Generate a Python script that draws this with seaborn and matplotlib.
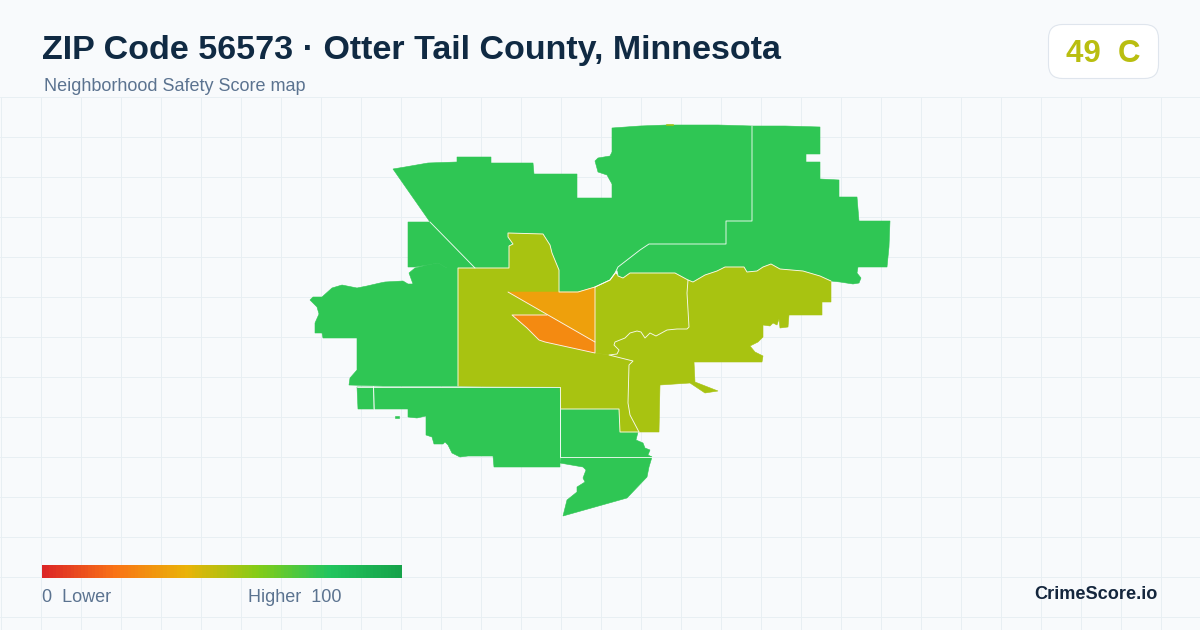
#!/usr/bin/env python3

import numpy as np
import matplotlib.pyplot as plt
from matplotlib.patches import FancyBboxPatch
import seaborn as sns

sns.set_theme(style='white')
plt.rcParams['font.family'] = ['Liberation Sans', 'DejaVu Sans']

# Region outlines (x, y)
nw_green = [(393, 169), (405, 167), (428, 163), (457, 162), (457, 157), (491, 157), (491, 163), (533, 163),
            (534, 174), (577, 174), (577, 198), (612, 198), (612, 184), (607, 175), (598, 172), (595, 161),
            (598, 158), (610, 156), (612, 152), (612, 128), (640, 126), (667, 125), (718, 125), (752, 126),
            (752, 221), (726, 221), (726, 244), (649, 244), (640, 250), (618, 267), (615, 273), (610, 280),
            (595, 287), (578, 292), (559, 292), (559, 270), (552, 253), (550, 245), (543, 234), (508, 233),
            (508, 237), (513, 244), (509, 246), (509, 268), (475, 268), (430, 222)]
wedge_green = [(408, 222), (430, 222), (475, 268), (447, 268), (438, 263), (427, 265), (415, 267), (408, 267)]
ne_green = [(752, 126), (785, 126), (820, 127), (820, 154), (806, 154), (806, 162), (820, 162), (820, 179),
            (839, 180), (839, 197), (857, 197), (859, 221), (890, 221), (889, 247), (887, 267), (858, 267),
            (857, 273), (861, 278), (859, 283), (853, 284), (840, 282), (831, 281), (820, 276), (803, 271),
            (780, 269), (771, 264), (763, 267), (757, 271), (747, 272), (744, 267), (737, 267), (725, 267),
            (717, 271), (705, 275), (693, 282), (688, 280), (675, 273), (653, 273), (630, 273), (623, 278),
            (618, 276), (617, 271), (618, 267), (640, 250), (649, 244), (726, 244), (726, 221), (752, 221)]
west_green = [(310, 300), (313, 297), (322, 297), (332, 288), (342, 285), (357, 288), (367, 286), (380, 283),
              (385, 282), (403, 281), (408, 284), (413, 284), (409, 273), (415, 268), (427, 265), (438, 263),
              (447, 268), (458, 268), (458, 386), (383, 386), (349, 385), (350, 378), (357, 370), (357, 338),
              (323, 338), (322, 333), (315, 333), (315, 323), (319, 314), (317, 307)]
box_green = [(357, 387), (373, 387), (374, 409), (358, 409)]
south_green = [(374, 387), (560, 387), (560, 467), (527, 467), (494, 467), (493, 456), (468, 456), (460, 457),
               (452, 453), (448, 445), (445, 442), (443, 444), (434, 444), (432, 437), (426, 435), (426, 416),
               (417, 418), (408, 417), (408, 409), (375, 409)]
se_box_green = [(561, 409), (619, 409), (620, 432), (638, 432), (636, 440), (643, 443), (645, 448), (650, 450),
                (648, 455), (652, 457), (561, 457)]
tail_green = [(561, 457), (652, 457), (649, 467), (647, 477), (627, 498), (563, 516), (567, 500), (577, 492),
              (577, 487), (585, 482), (583, 478), (586, 470), (583, 467), (560, 463)]
speck_green = [(395, 416), (399, 416), (399, 418), (395, 418)]

centre_lime = [(458, 268), (509, 268), (509, 246), (513, 244), (508, 237), (508, 233), (543, 234), (550, 245),
               (552, 253), (559, 270), (559, 292), (578, 292), (595, 287), (595, 353), (609, 355), (633, 361),
               (629, 365), (628, 403), (630, 415), (639, 432), (620, 432), (619, 409), (561, 409), (560, 387),
               (458, 386)]
north_lime = [(595, 287), (610, 280), (615, 273), (618, 276), (623, 278), (630, 273), (653, 273), (675, 273),
              (688, 280), (687, 293), (689, 327), (687, 329), (677, 329), (667, 330), (656, 336), (650, 333),
              (645, 338), (641, 332), (637, 331), (630, 333), (625, 338), (615, 342), (614, 345), (619, 350),
              (617, 354), (609, 355), (595, 353)]
east_lime = [(688, 280), (693, 282), (705, 275), (717, 271), (725, 267), (737, 267), (744, 267), (747, 272),
             (757, 271), (763, 267), (771, 264), (780, 269), (803, 271), (820, 276), (831, 281), (831, 302),
             (822, 302), (822, 315), (789, 315), (788, 327), (780, 328), (779, 319), (777, 325), (773, 323),
             (770, 326), (763, 325), (763, 337), (758, 342), (750, 346), (755, 352), (763, 356), (762, 362),
             (694, 362), (695, 382), (718, 391), (705, 393), (690, 383), (660, 385), (659, 432), (639, 432),
             (630, 415), (628, 403), (629, 365), (633, 361), (609, 355), (617, 354), (619, 350), (614, 345),
             (615, 342), (625, 338), (630, 333), (637, 331), (641, 332), (645, 338), (650, 333), (656, 336),
             (667, 330), (677, 329), (687, 329), (689, 327), (687, 293)]
speck_lime = [(666, 125), (673, 125), (673, 124), (666, 124)]

upper_orange = [(508, 292), (578, 292), (595, 287), (595, 342)]
lower_orange = [(512, 315), (547, 315), (595, 342), (595, 353), (545, 342), (539, 340), (527, 328)]

green_regions = [nw_green, wedge_green, ne_green, west_green, box_green, south_green, se_box_green, tail_green,
                 speck_green]
lime_regions = [centre_lime, north_lime, east_lime, speck_lime]

# Scores per group of regions
green_score = 77
lime_score = 53
upper_orange_score = 34
lower_orange_score = 27

# White boundary lines between regions
border_lines = [
    [(752, 126), (752, 221), (726, 221), (726, 244), (649, 244), (640, 250), (618, 267), (615, 273), (610, 280),
     (595, 287), (578, 292), (559, 292), (559, 270), (552, 253), (550, 245), (543, 234), (508, 233), (508, 237),
     (513, 244), (509, 246), (509, 268), (458, 268), (458, 386)],
    [(430, 222), (475, 268)],
    [(357, 387), (560, 387), (560, 457), (652, 457)],
    [(373.5, 387), (374, 409)],
    [(561, 409), (619, 409), (620, 432), (639, 432)],
    [(595, 287), (595, 353), (545, 342), (539, 340), (527, 328), (512, 315), (547, 315)],
    [(508, 292), (595, 342)],
    [(595, 287), (610, 280), (617, 271), (618, 276), (623, 278), (630, 273), (653, 273), (675, 273), (688, 280),
     (693, 282), (705, 275), (717, 271), (725, 267), (737, 267), (744, 267), (747, 272), (757, 271), (763, 267),
     (771, 264), (780, 269), (803, 271), (820, 276), (831, 281)],
    [(688, 280), (687, 293), (689, 327), (687, 329), (677, 329), (667, 330), (656, 336), (650, 333), (645, 338),
     (641, 332), (637, 331), (630, 333), (625, 338), (615, 342), (614, 345), (619, 350), (617, 354), (609, 355),
     (633, 361), (629, 365), (628, 403), (630, 415), (639, 432)],
]

# Legend gradient
gradient_colors = ['#dc2626', '#f97316', '#eab308', '#84cc16', '#22c55e', '#16a34a']
gradient_steps = np.arange(0, 101)

score_cmap = sns.blend_palette(gradient_colors, as_cmap=True)


def score_color(score):
    return score_cmap(score / 100)


fig = plt.figure(figsize=(12, 6.3), dpi=100, facecolor='#f8fafc')
ax = fig.add_axes([0, 0, 1, 1])
ax.set_xlim(0, 1200)
ax.set_ylim(630, 0)
ax.axis('off')

# Background grid below the header
for x in np.arange(0.5, 1200, 40):
    ax.plot([x, x], [97, 630], color='#e8eff3', lw=0.72, zorder=1)
for y in np.arange(96.5, 630, 40):
    ax.plot([0, 1200], [y, y], color='#e8eff3', lw=0.72, zorder=1)


def draw_regions(regions, score, zorder):
    color = score_color(score)
    for outline in regions:
        xs, ys = zip(*outline)
        ax.fill(xs, ys, facecolor=color, edgecolor=color, lw=0.4, zorder=zorder)


draw_regions(green_regions, green_score, 2)
draw_regions(lime_regions, lime_score, 3)
draw_regions([upper_orange], upper_orange_score, 4)
draw_regions([lower_orange], lower_orange_score, 4)

for line in border_lines:
    xs, ys = zip(*line)
    ax.plot(xs, ys, color='white', lw=0.65, alpha=0.9, solid_joinstyle='round', zorder=5)

# Header
ax.text(42, 59, 'ZIP Code 56573 · Otter Tail County, Minnesota', fontsize=24.5, fontweight='bold',
        color='#102a43', ha='left', va='baseline', zorder=6)
ax.text(44, 91, 'Neighborhood Safety Score map', fontsize=12.95, color='#5b7390',
        ha='left', va='baseline', zorder=6)

# Score badge
ax.add_patch(FancyBboxPatch((1048.5, 24.5), 110, 54, boxstyle='round,pad=0,rounding_size=14',
                            facecolor='white', edgecolor='#dfe5ed', lw=0.8, zorder=6))
ax.text(1103, 62, '49  C', fontsize=22.5, fontweight='bold', color='#b9be10',
        ha='center', va='baseline', zorder=7)

# Legend
cax = fig.add_axes([42 / 1200, 1 - 578 / 630, 360 / 1200, 13 / 630])
sns.heatmap(gradient_steps.reshape(1, -1), cmap=score_cmap, vmin=0, vmax=100, cbar=False,
            xticklabels=False, yticklabels=False, ax=cax, rasterized=True)
ax.text(42, 602.5, '0  Lower', fontsize=13, color='#5b7390', ha='left', va='baseline', zorder=6)
ax.text(342, 602.5, 'Higher  100', fontsize=13, color='#5b7390', ha='right', va='baseline', zorder=6)

# Brand
ax.text(1158, 599, 'CrimeScore.io', fontsize=13.1, fontweight='bold', color='#14263d',
        ha='right', va='baseline', zorder=6)

plt.savefig('out.png', dpi=100, facecolor=fig.get_facecolor())
